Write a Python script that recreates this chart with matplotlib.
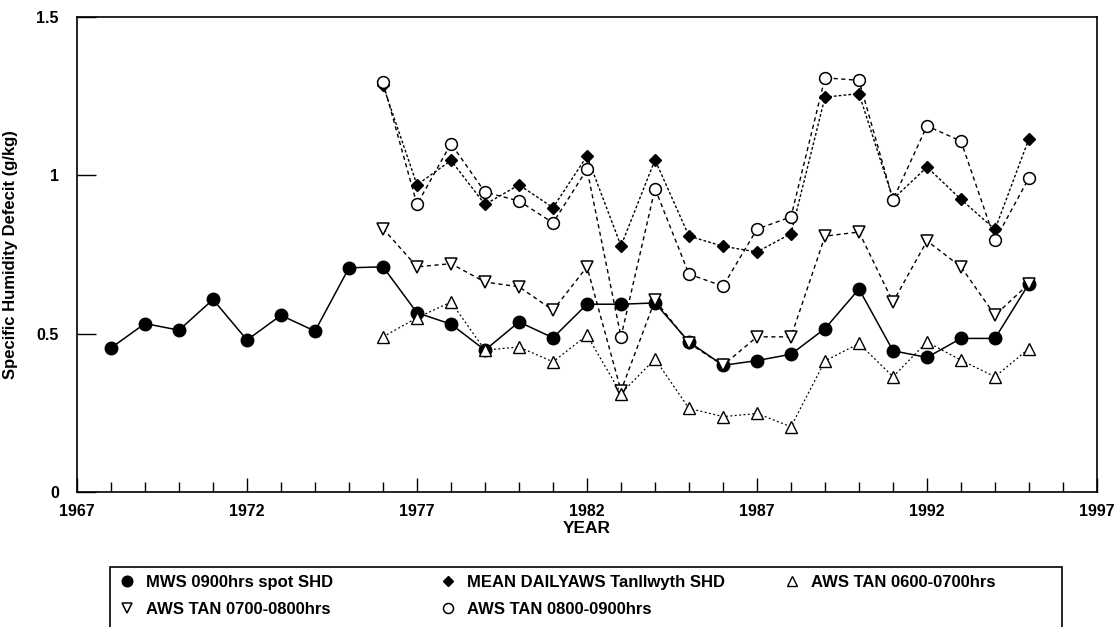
import numpy as np
import matplotlib
matplotlib.use('Agg')
import matplotlib.pyplot as plt
from matplotlib.patches import Rectangle

plt.rcParams['font.family'] = ['Liberation Sans', 'DejaVu Sans']

# --- data ---
years_mws = list(range(1968, 1996))
mws_spot = [0.455, 0.532, 0.511, 0.608, 0.480, 0.558, 0.508, 0.708, 0.711,
            0.566, 0.530, 0.448, 0.537, 0.487, 0.593, 0.593, 0.597, 0.474,
            0.400, 0.415, 0.435, 0.516, 0.641, 0.446, 0.425, 0.485, 0.485, 0.658]

years_aws = list(range(1976, 1996))
mean_daily = [1.284, 0.970, 1.047, 0.908, 0.970, 0.898, 1.061, 0.777, 1.049, 0.808,
              0.776, 0.758, 0.816, 1.247, 1.258, 0.925, 1.026, 0.924, 0.829, 1.116]
tan_0600 = [0.490, 0.550, 0.600, 0.448, 0.458, 0.411, 0.495, 0.311, 0.420, 0.264,
            0.238, 0.248, 0.206, 0.414, 0.469, 0.364, 0.474, 0.416, 0.364, 0.453]
tan_0700 = [0.832, 0.711, 0.721, 0.663, 0.648, 0.574, 0.711, 0.320, 0.606, 0.470,
            0.400, 0.490, 0.490, 0.808, 0.821, 0.600, 0.793, 0.711, 0.558, 0.658]
tan_0800 = [1.294, 0.908, 1.100, 0.947, 0.919, 0.850, 1.019, 0.490, 0.958, 0.688,
            0.650, 0.830, 0.869, 1.308, 1.300, 0.923, 1.156, 1.108, 0.795, 0.992]

x_ticks = [1967, 1972, 1977, 1982, 1987, 1992, 1997]
y_ticks = [0, 0.5, 1, 1.5]
y_tick_labels = ['0', '0.5', '1', '1.5']

fig = plt.figure(figsize=(11.17, 6.27), dpi=100)
ax = fig.add_axes([77/1117, 1 - 492/627, 1020/1117, 475/627])

h_mws, = ax.plot(years_mws, mws_spot, '-', color='black', lw=1.1, marker='o',
                 ms=9, mfc='black', mec='black', label='MWS 0900hrs spot SHD')
h_tan7, = ax.plot(years_aws, tan_0700, color='black', lw=1.0, ls=(0, (3, 2.5)),
                  marker='v', ms=8, mfc='white', mec='black', mew=1.1,
                  label='AWS TAN 0700-0800hrs')
h_mean, = ax.plot(years_aws, mean_daily, color='black', lw=1.0, ls=(0, (2, 1.5)),
                  marker='D', ms=6.5, mfc='black', mec='black',
                  label='MEAN DAILYAWS Tanllwyth SHD')
h_tan8, = ax.plot(years_aws, tan_0800, color='black', lw=1.0, ls=(0, (3, 2.5)),
                  marker='o', ms=8.5, mfc='white', mec='black', mew=1.1,
                  label='AWS TAN 0800-0900hrs')
h_tan6, = ax.plot(years_aws, tan_0600, color='black', lw=0.9, ls=(0, (1.5, 2)),
                  marker='^', ms=8, mfc='white', mec='black', mew=1.0,
                  label='AWS TAN 0600-0700hrs')

ax.set_xlim(1967, 1997)
ax.set_ylim(0, 1.5)
ax.set_xticks(x_ticks)
ax.set_xticks(range(1967, 1998), minor=True)
ax.set_yticks(y_ticks)
ax.set_yticklabels(y_tick_labels)
ax.tick_params(axis='x', which='major', direction='in', length=10, width=1,
               labelsize=11.5, pad=9)
ax.tick_params(axis='x', which='minor', direction='in', length=7, width=1)
ax.tick_params(axis='y', which='major', direction='in', length=14, width=1,
               labelsize=11.5, pad=13)
for lbl in ax.get_xticklabels() + ax.get_yticklabels():
    lbl.set_fontweight('bold')
for sp in ax.spines.values():
    sp.set_linewidth(1.2)

ax.set_xlabel('YEAR', fontsize=12.5, fontweight='bold', labelpad=1)
ax.set_ylabel('Specific Humidity Defecit (g/kg)', fontsize=12, fontweight='bold',
              labelpad=13)

# legend box (cut off at the bottom of the figure, as in the scan)
fig.patches.append(Rectangle((110/1117, -0.05), 952/1117, 0.05 + (627 - 567)/627,
                             transform=fig.transFigure, fill=False,
                             edgecolor='black', lw=1.2))

# three legend columns at the reference's uneven x positions
columns = [([h_mws, h_tan7], 119), ([h_mean, h_tan8], 440), ([h_tan6], 784)]
for handles, x0 in columns:
    leg = fig.legend(handles=handles, ncol=1, loc='upper left',
                     bbox_to_anchor=(x0/1117, 1 - 575/627),
                     frameon=False, fontsize=12, handlelength=1.0,
                     handletextpad=0.6, labelspacing=0.7,
                     borderaxespad=0, borderpad=0)
    for t in leg.get_texts():
        t.set_fontweight('bold')
    for lh in leg.get_lines():
        lh.set_linestyle('none')
        lh.set_markersize(lh.get_markersize() * 0.85)

fig.savefig('out.png', dpi=100)
